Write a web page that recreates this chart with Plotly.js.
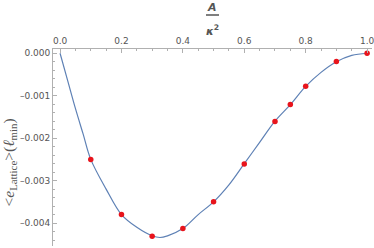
<!DOCTYPE html>
<html><head><meta charset="utf-8">
<script src="https://cdn.plot.ly/plotly-3.0.1.min.js"></script>
<style>html,body{margin:0;padding:0;background:#fff}#chart{width:374px;height:248px}</style>
</head><body><div id="chart"></div>
<script>
// Smooth curve
var curveX = [0,0.025,0.05,0.075,0.1,0.15,0.2,0.25,0.3,0.325,0.35,0.4,0.45,0.5,0.55,0.6,0.65,0.7,0.75,0.8,0.85,0.9,0.95,1.0];
var curveY = [0,-0.00065,-0.0013,-0.0019,-0.0025,-0.0032,-0.0038,-0.0041,-0.0043,-0.00434,-0.0043,-0.00413,-0.0038,-0.0035,-0.0031,-0.0026,-0.0021,-0.0016,-0.00121,-0.00078,-0.00045,-0.0002,-0.00005,0];
// Lattice points
var ptX = [0.1,0.2,0.3,0.4,0.5,0.6,0.7,0.75,0.8,0.9,1.0];
var ptY = [-0.0025,-0.0038,-0.00431,-0.00413,-0.0035,-0.00261,-0.00161,-0.00121,-0.00078,-0.000195,0];
var xTicks = [0,0.2,0.4,0.6,0.8,1.0];
var xTickText = ['0.0','0.2','0.4','0.6','0.8','1.0'];
var yTicks = [0,-0.001,-0.002,-0.003,-0.004];
var yTickText = ['0.000','\u20130.001','\u20130.002','\u20130.003','\u20130.004'];

var gray = '#555555';
var axisCol = '#b0b0b0';
var traces = [
  {x: curveX, y: curveY, mode: 'lines', line: {color: '#5E81B5', width: 1.2, shape: 'spline', smoothing: 1}, hoverinfo: 'skip'},
  {x: ptX, y: ptY, mode: 'markers', marker: {color: '#E8141C', size: 5.5}}
];
function px2paperX(px){ return (px - 53) / 319; }
function py2paperY(py){ return (246 - py) / 197; }
var layout = {
  width: 374, height: 248,
  margin: {l: 53, r: 2, t: 49, b: 2},
  paper_bgcolor: '#fff', plot_bgcolor: '#fff',
  showlegend: false,
  font: {family: 'DejaVu Sans, sans-serif', color: gray, size: 9},
  xaxis: {
    side: 'top', range: [-0.023, 1.016], showgrid: false, zeroline: false,
    showline: true, linecolor: axisCol, linewidth: 1, ticklabeloverflow: 'allow',
    tickvals: xTicks, ticktext: xTickText, ticks: 'inside', ticklen: 4, tickcolor: axisCol,
    tickfont: {family: 'DejaVu Sans, sans-serif', size: 9, color: gray},
    minor: {dtick: 0.05, tick0: 0, ticks: 'inside', ticklen: 2, tickcolor: axisCol, showgrid: false}
  },
  yaxis: {
    range: [-0.00454, 0.0001], showgrid: false, zeroline: false,
    showline: true, linecolor: axisCol, linewidth: 1, ticklabeloverflow: 'allow',
    tickvals: yTicks, ticktext: yTickText, ticks: 'inside', ticklen: 4, tickcolor: axisCol,
    tickfont: {family: 'DejaVu Sans, sans-serif', size: 9, color: gray},
    minor: {dtick: 0.0002, tick0: 0, ticks: 'inside', ticklen: 2, tickcolor: axisCol, showgrid: false}
  },
  annotations: [
    {xref: 'paper', yref: 'paper', x: px2paperX(212), y: py2paperY(7), yanchor: 'middle', xanchor: 'center',
     text: '<b><i>A</i></b>', showarrow: false, font: {family: 'DejaVu Sans, sans-serif', size: 11, color: gray}},
    {xref: 'paper', yref: 'paper', x: px2paperX(213), y: py2paperY(31), yanchor: 'middle', xanchor: 'center',
     text: '<b><i>\u03BA</i><sup>2</sup></b>', showarrow: false, font: {family: 'DejaVu Sans, sans-serif', size: 11, color: gray}},
    {xref: 'paper', yref: 'paper', x: px2paperX(-3), y: py2paperY(163), xanchor: 'left', yanchor: 'middle', textangle: -90,
     text: '&lt;<i>e</i><sub>Lattice</sub>&gt;(<i>\u2113</i><sub>min</sub>)', showarrow: false,
     font: {family: 'Liberation Serif, serif', size: 15.5, color: gray}}
  ],
  shapes: [
    {type: 'line', xref: 'paper', yref: 'paper', x0: px2paperX(206), x1: px2paperX(219), y0: py2paperY(15), y1: py2paperY(15), line: {color: gray, width: 1.5}}
  ]
};
Plotly.newPlot('chart', traces, layout, {staticPlot: true, displayModeBar: false});
</script>
</body></html>
